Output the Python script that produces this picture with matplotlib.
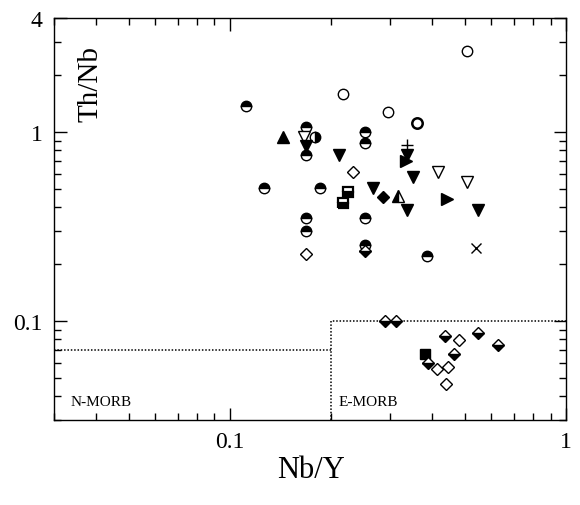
import matplotlib
matplotlib.use("Agg")
import matplotlib.pyplot as plt
from matplotlib.ticker import FixedLocator, LogLocator, NullFormatter

plt.rcParams['font.family'] = ['Liberation Serif', 'DejaVu Serif']

# ---- data (Nb/Y, Th/Nb) ----
half_circle_x = [0.112, 0.168, 0.168, 0.253, 0.253, 0.126, 0.185, 0.253, 0.169, 0.169, 0.253, 0.386]
half_circle_y = [1.37, 1.06, 0.755, 1.0, 0.875, 0.505, 0.505, 0.351, 0.351, 0.30, 0.252, 0.221]

open_circle_x = [0.217, 0.296, 0.508]
open_circle_y = [1.59, 1.28, 2.68]
bold_circle_x = [0.361]
bold_circle_y = [1.12]

right_half_circle_x = [0.179]
right_half_circle_y = [0.94]

up_tri_x = [0.144]
up_tri_y = [0.94]

half_up_tri_x = [0.317]
half_up_tri_y = [0.458]

open_down_tri_x = [0.166, 0.417, 0.508]
open_down_tri_y = [0.94, 0.614, 0.544]

down_tri_x = [0.169, 0.211, 0.337, 0.351, 0.267, 0.337, 0.548]
down_tri_y = [0.84, 0.755, 0.755, 0.578, 0.505, 0.387, 0.387]

right_tri_x = [0.335, 0.443]
right_tri_y = [0.70, 0.442]

half_square_x = [0.225, 0.217]
half_square_y = [0.482, 0.421]

square_x = [0.381]
square_y = [0.0669]

diamond_x = [0.286]
diamond_y = [0.453]

open_diamond_x = [0.233, 0.169, 0.481, 0.414, 0.446, 0.44]
open_diamond_y = [0.614, 0.226, 0.0793, 0.0557, 0.057, 0.0464]

half_diamond_x = [0.290, 0.313, 0.435, 0.548, 0.628, 0.389, 0.465, 0.253]
half_diamond_y = [0.1, 0.1, 0.083, 0.0864, 0.0746, 0.060, 0.0669, 0.236]

plus_x = [0.337]
plus_y = [0.853]

cross_x = [0.541]
cross_y = [0.243]

# field boundaries
nmorb_x = [0.03, 0.2]
nmorb_y = [0.07, 0.07]
emorb_x = [0.2, 0.2, 1.0]
emorb_y = [0.03, 0.1, 0.1]

x_ticks = [0.1, 1]
x_tick_labels = ['0.1', '1']
y_ticks = [0.1, 1, 4]
y_tick_labels = ['0.1', '1', '4']

fig = plt.figure(figsize=(5.8, 5.06), dpi=100)
ax = fig.add_axes([0.093, 0.168, 0.883, 0.7945])
ax.set_xscale('log')
ax.set_yscale('log')
ax.set_xlim(0.03, 1)
ax.set_ylim(0.03, 4)

dot = (0, (1, 1.2))
ax.plot(nmorb_x, nmorb_y, color='black', lw=1.1, ls=dot, zorder=1)
ax.plot(emorb_x, emorb_y, color='black', lw=1.1, ls=dot, zorder=1)

k = 'black'
w = 'white'
common = dict(ls='none', mec=k, mew=1.0, zorder=3)

ax.plot(half_circle_x, half_circle_y, marker='o', ms=7.5, fillstyle='top', mfc=k, mfcalt=w, **common)
ax.plot(open_circle_x, open_circle_y, marker='o', ms=7.5, mfc=w, **common)
ax.plot(bold_circle_x, bold_circle_y, marker='o', ms=7.5, mfc=w, ls='none', mec=k, mew=1.8, zorder=3)
ax.plot(right_half_circle_x, right_half_circle_y, marker='o', ms=7.5, fillstyle='right', mfc=k, mfcalt=w, **common)
ax.plot(up_tri_x, up_tri_y, marker='^', ms=8, mfc=k, **common)
ax.plot(half_up_tri_x, half_up_tri_y, marker='^', ms=8, fillstyle='left', mfc=k, mfcalt=w, **common)
ax.plot(open_down_tri_x, open_down_tri_y, marker='v', ms=8, mfc=w, **common)
ax.plot(down_tri_x, down_tri_y, marker='v', ms=8, mfc=k, **common)
ax.plot(right_tri_x, right_tri_y, marker='>', ms=8, mfc=k, **common)
ax.plot(half_square_x, half_square_y, marker='s', ms=7, fillstyle='bottom', mfc=k, mfcalt=w,
        ls='none', mec=k, mew=1.6, zorder=3)
ax.plot(square_x, square_y, marker='s', ms=7.5, mfc=k, **common)
ax.plot(diamond_x, diamond_y, marker='D', ms=6, mfc=k, **common)
ax.plot(open_diamond_x, open_diamond_y, marker='D', ms=6, mfc=w, **common)
ax.plot(half_diamond_x, half_diamond_y, marker='D', ms=6, fillstyle='bottom', mfc=k, mfcalt=w, **common)
ax.plot(plus_x, plus_y, marker='+', ms=8, **common)
ax.plot(cross_x, cross_y, marker='x', ms=7, **common)

ax.xaxis.set_major_locator(FixedLocator(x_ticks))
ax.set_xticklabels(x_tick_labels)
ax.xaxis.set_minor_locator(LogLocator(base=10, subs=range(2, 10)))
ax.xaxis.set_minor_formatter(NullFormatter())
ax.yaxis.set_major_locator(FixedLocator(y_ticks))
ax.set_yticklabels(y_tick_labels)
ax.yaxis.set_minor_locator(LogLocator(base=10, subs=range(2, 10)))
ax.yaxis.set_minor_formatter(NullFormatter())

ax.tick_params(which='both', direction='in', top=True, right=True, width=1.0, colors='black')
ax.tick_params(which='major', length=9, labelsize=17, pad=8)
ax.tick_params(which='minor', length=5)
for s in ax.spines.values():
    s.set_linewidth(1.0)
    s.set_color('black')

ax.text(0.0337, 0.0377, 'N-MORB', fontsize=11, ha='left', va='center')
ax.text(0.21, 0.0377, 'E-MORB', fontsize=11, ha='left', va='center')

ax.text(0.072, 0.838, 'Th/Nb', transform=ax.transAxes, rotation=90, fontsize=21,
        ha='center', va='center')
ax.text(0.502, -0.122, 'Nb/Y', transform=ax.transAxes, fontsize=22, ha='center', va='center')

fig.savefig('out.png', dpi=100)
